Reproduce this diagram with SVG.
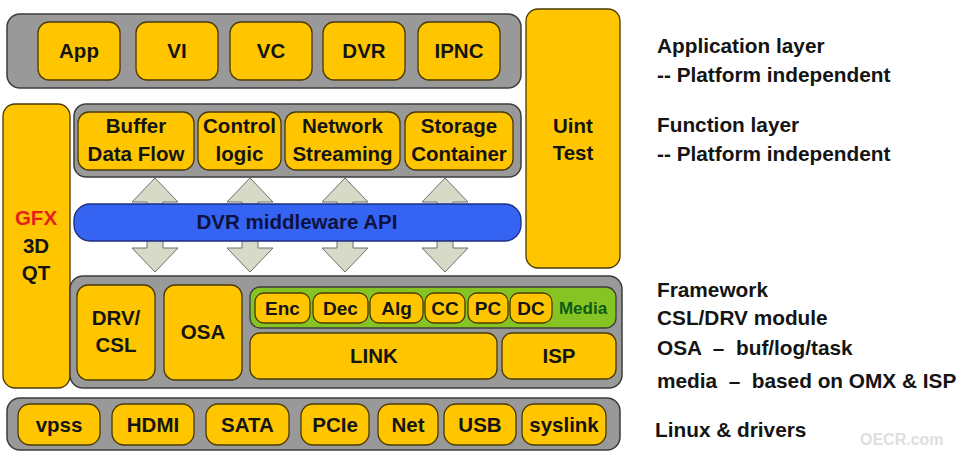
<svg xmlns="http://www.w3.org/2000/svg" width="960" height="455" viewBox="0 0 960 455">
<defs>
<style>
text{font-family:"Liberation Sans",Arial,sans-serif;font-weight:bold;fill:#141414}
.t20{font-size:20.5px;text-anchor:middle}
.t18{font-size:19px;text-anchor:middle}
.lbl{font-size:20.8px}
.panel{fill:#999999;stroke:#3c3c3c;stroke-width:1.5}
.box{fill:#ffc600;stroke:#4a3a00;stroke-width:1.3}
.media{fill:#86c424;stroke:#3c3c3c;stroke-width:1.3}
.api{fill:#3563f2;stroke:#1c2f80;stroke-width:1.3}
.arrow{fill:#d6dac6;stroke:#6e6e6e;stroke-width:1}
</style>
</defs>
<rect width="960" height="455" fill="#ffffff"/>

<g id="connectors">
<polygon class="arrow" points="155,178 178,202 163,202 163,248 178,248 155,272 132,248 147,248 147,202 132,202"/>
<polygon class="arrow" points="250,178 273,202 258,202 258,248 273,248 250,272 227,248 242,248 242,202 227,202"/>
<polygon class="arrow" points="345,178 368,202 353,202 353,248 368,248 345,272 322,248 337,248 337,202 322,202"/>
<polygon class="arrow" points="445,178 468,202 453,202 453,248 468,248 445,272 422,248 437,248 437,202 422,202"/>
</g>

<g id="app-layer">
<rect class="panel" x="7" y="14" width="514" height="74" rx="13"/>
<g id="app"><rect class="box" x="38" y="22" width="82" height="58" rx="11"/><text class="t20" x="79" y="58">App</text></g>
<g id="vi"><rect class="box" x="136" y="22" width="82" height="58" rx="11"/><text class="t20" x="177" y="58">VI</text></g>
<g id="vc"><rect class="box" x="230" y="22" width="82" height="58" rx="11"/><text class="t20" x="271" y="58">VC</text></g>
<g id="dvr"><rect class="box" x="323" y="22" width="82" height="58" rx="11"/><text class="t20" x="364" y="58">DVR</text></g>
<g id="ipnc"><rect class="box" x="418" y="22" width="82" height="58" rx="11"/><text class="t20" x="459" y="58">IPNC</text></g>
</g>

<g id="uint-test"><rect class="box" x="526" y="9" width="94" height="259" rx="12"/><text class="t20" x="573" y="133">Uint</text><text class="t20" x="573" y="160">Test</text></g>

<g id="gfx"><rect class="box" x="3" y="104" width="67" height="284" rx="12"/><text class="t20" x="36" y="225" style="fill:#e5221a">GFX</text><text class="t20" x="36" y="253">3D</text><text class="t20" x="36" y="280">QT</text></g>

<g id="function-layer">
<rect class="panel" x="74" y="104" width="447" height="73" rx="12"/>
<g id="buffer"><rect class="box" x="78" y="112" width="116" height="58" rx="11"/><text class="t20" x="136" y="133">Buffer</text><text class="t20" x="136" y="161">Data Flow</text></g>
<g id="control"><rect class="box" x="198" y="112" width="83" height="58" rx="11"/><text class="t20" x="239.5" y="133">Control</text><text class="t20" x="239.5" y="161">logic</text></g>
<g id="network"><rect class="box" x="285" y="112" width="115" height="58" rx="11"/><text class="t20" x="342.5" y="133">Network</text><text class="t20" x="342.5" y="161">Streaming</text></g>
<g id="storage"><rect class="box" x="405" y="112" width="108" height="58" rx="11"/><text class="t20" x="459" y="133">Storage</text><text class="t20" x="459" y="161">Container</text></g>
</g>

<g id="api"><rect class="api" x="74" y="204" width="447" height="37" rx="16"/><text class="t20" x="297" y="229" style="fill:#0d1240">DVR middleware API</text></g>

<g id="framework">
<rect class="panel" x="70" y="276" width="552" height="112" rx="13"/>
<g id="drv-csl"><rect class="box" x="77" y="285" width="78" height="95" rx="11"/><text class="t20" x="116" y="325">DRV/</text><text class="t20" x="116" y="352">CSL</text></g>
<g id="osa"><rect class="box" x="164" y="285" width="78" height="95" rx="11"/><text class="t20" x="203" y="339">OSA</text></g>
<g id="media">
<rect class="media" x="250" y="287" width="366" height="41" rx="10"/>
<g id="enc"><rect class="box" x="255" y="293" width="55" height="30" rx="9"/><text class="t18" x="282.5" y="315">Enc</text></g>
<g id="dec"><rect class="box" x="313" y="293" width="55" height="30" rx="9"/><text class="t18" x="340.5" y="315">Dec</text></g>
<g id="alg"><rect class="box" x="370" y="293" width="53" height="30" rx="9"/><text class="t18" x="396.5" y="315">Alg</text></g>
<g id="cc"><rect class="box" x="425" y="293" width="40" height="30" rx="9"/><text class="t18" x="445" y="315">CC</text></g>
<g id="pc"><rect class="box" x="468" y="293" width="40" height="30" rx="9"/><text class="t18" x="488" y="315">PC</text></g>
<g id="dc"><rect class="box" x="510" y="293" width="42" height="30" rx="9"/><text class="t18" x="531" y="315">DC</text></g>
<text x="583" y="314" style="font-size:17px;text-anchor:middle;fill:#0f5a14">Media</text>
</g>
<g id="link"><rect class="box" x="250" y="333" width="247" height="46" rx="10"/><text class="t20" x="374" y="363">LINK</text></g>
<g id="isp"><rect class="box" x="502" y="333" width="114" height="46" rx="10"/><text class="t20" x="559" y="363">ISP</text></g>
</g>

<g id="drivers">
<rect class="panel" x="7" y="398" width="613" height="52" rx="13"/>
<g id="vpss"><rect class="box" x="18" y="404" width="82" height="41" rx="12"/><text class="t20" x="59" y="432">vpss</text></g>
<g id="hdmi"><rect class="box" x="112" y="404" width="82" height="41" rx="12"/><text class="t20" x="153" y="432">HDMI</text></g>
<g id="sata"><rect class="box" x="206" y="404" width="83" height="41" rx="12"/><text class="t20" x="247.5" y="432">SATA</text></g>
<g id="pcie"><rect class="box" x="301" y="404" width="68" height="41" rx="12"/><text class="t20" x="335" y="432">PCIe</text></g>
<g id="net"><rect class="box" x="378" y="404" width="60" height="41" rx="12"/><text class="t20" x="408" y="432">Net</text></g>
<g id="usb"><rect class="box" x="444" y="404" width="72" height="41" rx="12"/><text class="t20" x="480" y="432">USB</text></g>
<g id="syslink"><rect class="box" x="522" y="404" width="84" height="41" rx="12"/><text class="t20" x="564" y="432">syslink</text></g>
</g>

<g id="labels">
<text class="lbl" x="657" y="53">Application layer</text>
<text class="lbl" x="657" y="82">-- Platform independent</text>
<text class="lbl" x="657" y="132">Function layer</text>
<text class="lbl" x="657" y="161">-- Platform independent</text>
<text class="lbl" x="657" y="297">Framework</text>
<text class="lbl" x="657" y="325">CSL/DRV module</text>
<text class="lbl" x="657" y="355" xml:space="preserve">OSA  –  buf/log/task</text>
<text class="lbl" x="657" y="388" xml:space="preserve">media  –  based on OMX &amp; ISP</text>
<text class="lbl" x="655" y="437">Linux &amp; drivers</text>
<text x="860" y="445" style="font-size:16px;fill:#dedede">OECR.com</text>
</g>
</svg>
